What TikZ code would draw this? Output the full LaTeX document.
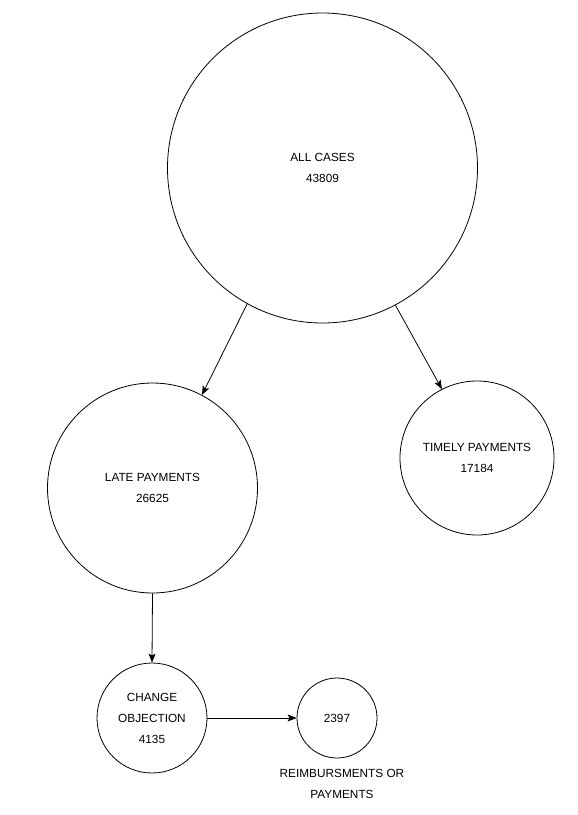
\documentclass[tikz,border=0pt]{standalone}
\usepackage{fontspec}
\setmainfont{Liberation Sans}
\usetikzlibrary{arrows.meta}

\begin{document}
\begin{tikzpicture}[x=1pt,y=-1pt,
    circ/.style={draw,circle,line width=0.8pt,inner sep=0pt,align=center,font=\fontsize{11.8}{21}\selectfont},
    link/.style={-{Stealth[length=9pt,width=7pt,inset=2pt]},line width=0.8pt}]
      \useasboundingbox (0,0) rectangle (578,815);
      \node [circ,minimum size=310pt] (all) at (322.5,168) {ALL CASES\\43809};
      \node [circ,minimum size=210pt] (late) at (152.5,488) {LATE PAYMENTS\\26625};
      \node [circ,minimum size=154pt] (timely) at (477,458) {TIMELY PAYMENTS\\17184};
      \node [circ,minimum size=110pt] (change) at (152,718) {CHANGE\\OBJECTION\\4135};
      \node [circ,minimum size=80pt] (reimb) at (337,718) {2397};
      \node [align=center,font=\fontsize{11.8}{21}\selectfont] (reimblabel) at (342,784) {REIMBURSMENTS OR\\PAYMENTS};
      \draw [link] (all.241.6) -- (late.62.2);
      \draw [link] (all.298.4) -- (timely.117.9);
      \draw [link] (late.south) -- (change.north);
      \draw [link] (change.east) -- (reimb.west);
    \end{tikzpicture}
\end{document}
